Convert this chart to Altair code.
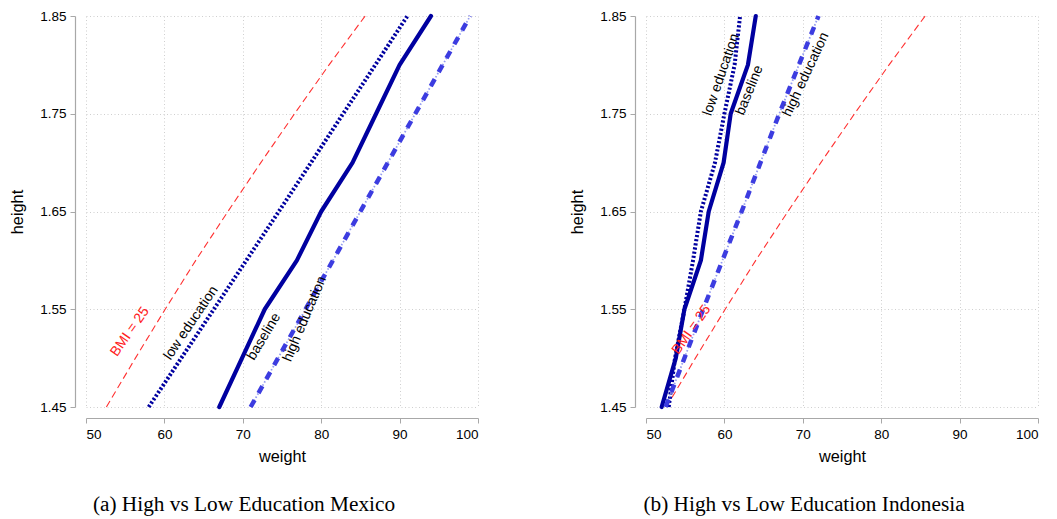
import altair as alt
import pandas as pd

# ---------------- data ----------------
heights5 = [1.45, 1.55, 1.65, 1.75, 1.85]
heights9 = [1.45, 1.50, 1.55, 1.60, 1.65, 1.70, 1.75, 1.80, 1.85]

bmi25_weight = [52.6, 56.3, 60.1, 64.0, 68.1, 72.3, 76.6, 81.0, 85.6]  # heights9

# Mexico
mx_low = [58.0, 66.3, 74.6, 82.8, 91.0]                               # heights5
mx_base = [67.0, 69.9, 72.8, 76.9, 80.0, 84.0, 87.0, 90.0, 94.0]      # heights9
mx_high = [71.0, 78.0, 85.0, 92.0, 99.0]                              # heights5

# Indonesia
id_low = [52.9, 53.7, 54.9, 56.0, 57.0, 58.8, 60.0, 61.3, 62.0]       # heights9
id_base = [52.0, 53.8, 54.9, 57.0, 58.0, 59.9, 60.8, 63.0, 64.0]      # heights9
id_high = [52.5, 57.3, 62.2, 67.0, 72.0]                              # heights5

label_text = ["BMI = 25", "low education", "baseline", "high education"]
label_color = ["#ff2020", "black", "black", "black"]
mx_label_x = [55.6, 63.4, 72.7, 77.9]
mx_label_y = [1.527, 1.536, 1.522, 1.540]
mx_label_angle = [305, 304, 301, 293]
id_label_x = [55.8, 59.6, 63.2, 70.4]
id_label_y = [1.529, 1.790, 1.774, 1.790]
id_label_angle = [305, 289, 292, 295]

x_ticks = [50, 60, 70, 80, 90, 100]
y_ticks = [1.45, 1.55, 1.65, 1.75, 1.85]

captions = ["(a) High vs Low Education Mexico", "(b) High vs Low Education Indonesia"]

NAVY = "#0000a0"
ROYAL = "#3c3ce0"
LIGHT = "#949cf0"
RED = "#ff3030"


def frame(weights, heights):
    return pd.DataFrame({"weight": weights, "height": heights})


def panel(low, low_h, base, base_h, high, high_h, lx, ly, la, caption):
    xenc = alt.X(
        "weight:Q",
        scale=alt.Scale(domain=[50, 100], nice=False, zero=False),
        axis=alt.Axis(values=x_ticks, title="weight", offset=11, format="d"),
    )
    yenc = alt.Y(
        "height:Q",
        scale=alt.Scale(domain=[1.45, 1.85], nice=False, zero=False),
        axis=alt.Axis(values=y_ticks, title="height", offset=11, format=".2f"),
    )
    order = alt.Order("height:Q")

    bmi = alt.Chart(frame(bmi25_weight, heights9)).mark_line(
        color=RED, strokeWidth=1.1, strokeDash=[7, 4]
    ).encode(x=xenc, y=yenc, order=order)

    lowl = alt.Chart(frame(low, low_h)).mark_line(
        color=NAVY, strokeWidth=4, strokeDash=[2.2, 2], strokeCap="butt"
    ).encode(x=xenc, y=yenc, order=order)

    basel = alt.Chart(frame(base, base_h)).mark_line(
        color=NAVY, strokeWidth=4.2, strokeCap="round", strokeJoin="round"
    ).encode(x=xenc, y=yenc, order=order)

    high_thin = alt.Chart(frame(high, high_h)).mark_line(
        color=LIGHT, strokeWidth=1.8, strokeDash=[1.5, 2]
    ).encode(x=xenc, y=yenc, order=order)

    high_thick = alt.Chart(frame(high, high_h)).mark_line(
        color=ROYAL, strokeWidth=4.5, strokeDash=[8, 8], strokeCap="butt"
    ).encode(x=xenc, y=yenc, order=order)

    lab_df = pd.DataFrame({"text": label_text, "weight": lx, "height": ly,
                           "angle": la, "color": label_color})
    labels = alt.Chart(lab_df).mark_text(
        font="Liberation Sans", fontSize=14, align="center", baseline="middle"
    ).encode(
        x=xenc, y=yenc, text="text:N",
        angle=alt.Angle("angle:Q", scale=None),
        color=alt.Color("color:N", scale=None),
    )

    return alt.layer(bmi, lowl, basel, high_thin, high_thick, labels).properties(
        width=392,
        height=391,
        title=alt.TitleParams(
            text=caption, orient="bottom", anchor="middle", frame="group",
            dx=-38, offset=29, font="Liberation Serif", fontSize=21.3,
            fontWeight="normal", color="black",
        ),
    )


left = panel(mx_low, heights5, mx_base, heights9, mx_high, heights5,
             mx_label_x, mx_label_y, mx_label_angle, captions[0])
right = panel(id_low, heights9, id_base, heights9, id_high, heights5,
              id_label_x, id_label_y, id_label_angle, captions[1])

chart = alt.hconcat(left, right, spacing=89).properties(
    padding={"left": 9, "top": 7, "right": 0, "bottom": 0}
).configure_view(strokeWidth=0).configure_axis(
    domainColor="#a8a8a8",
    tickColor="#a8a8a8",
    tickSize=5,
    domainWidth=1.2,
    gridColor="#cfcfcf",
    gridDash=[1, 2.5],
    gridWidth=1,
    labelFont="Liberation Sans",
    labelFontSize=13.5,
    labelColor="black",
    labelPadding=4,
    titleFont="Liberation Sans",
    titleFontSize=16.3,
    titleFontWeight="normal",
    titleColor="black",
).configure_axisY(titlePadding=14).configure_axisX(titlePadding=8)

chart.save("out.html", embed_options={"renderer": "svg", "actions": False})
